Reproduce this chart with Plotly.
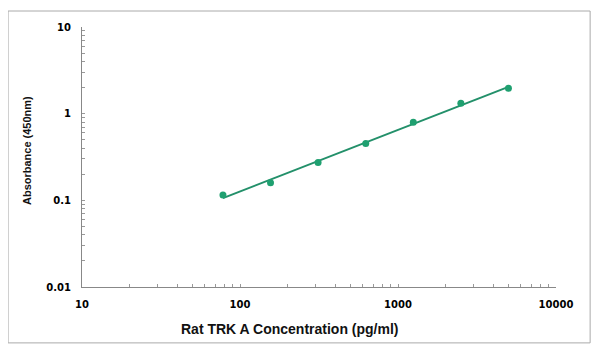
import numpy as np
import plotly.graph_objects as go

# Data
concentration = [78, 156, 312, 625, 1250, 2500, 5000]
absorbance = [0.115, 0.160, 0.274, 0.454, 0.794, 1.315, 1.97]

x_ticks = [10, 100, 1000, 10000]
x_tick_labels = ["10", "100", "1000", "10000"]
y_ticks = [0.01, 0.1, 1, 10]
y_tick_labels = ["0.01", "0.1", "1", "10"]

x_title = "Rat TRK A Concentration (pg/ml)"
y_title = "Absorbance (450nm)"

# log-log linear fit (trend line)
lx = np.log10(concentration)
ly = np.log10(absorbance)
slope, intercept = np.polyfit(lx, ly, 1)
fit_x = [concentration[0], concentration[-1]]
fit_y = [10 ** (intercept + slope * np.log10(v)) for v in fit_x]


def log_ticks(decades, labels):
    vals, texts = [], []
    for i, d in enumerate(decades):
        vals.append(d)
        texts.append(labels[i])
        if i < len(decades) - 1:
            for k in range(2, 10):
                vals.append(d * k)
                texts.append("")
    return vals, texts


xv, xt = log_ticks(x_ticks, x_tick_labels)
yv, yt = log_ticks(y_ticks, y_tick_labels)

line_green = "#23906a"
marker_green = "#1fa070"

fig = go.Figure()
fig.add_trace(go.Scatter(x=fit_x, y=fit_y, mode="lines",
                         line=dict(color=line_green, width=2), showlegend=False))
fig.add_trace(go.Scatter(x=concentration, y=absorbance, mode="markers",
                         marker=dict(color=marker_green, size=7), showlegend=False))

sans = "Liberation Sans, Arial, sans-serif"
tickfont = dict(size=10, family="DejaVu Sans, sans-serif", weight="bold", color="black")

axis_common = dict(type="log", ticks="inside", ticklen=3, tickcolor="#999", tickwidth=1,
                   showline=True, linecolor="#888", linewidth=1, showgrid=False,
                   zeroline=False, tickfont=tickfont, automargin=False,
                   ticklabelstandoff=8)

fig.update_layout(
    width=600, height=355,
    margin=dict(l=74, r=52, t=19, b=76),
    paper_bgcolor="white", plot_bgcolor="white",
    font=dict(family=sans, color="black"),
    xaxis=dict(range=[1, 4], tickvals=xv, ticktext=xt, **axis_common),
    yaxis=dict(range=[-2, 1], tickvals=yv, ticktext=yt, **axis_common),
    annotations=[
        dict(text="<b>" + x_title + "</b>", xref="paper", yref="paper",
             x=0.439, y=-0.1615, xanchor="center", yanchor="middle",
             showarrow=False, font=dict(size=14, family=sans, color="#111")),
        dict(text="<b>" + y_title + "</b>", xref="paper", yref="paper",
             x=-0.116, y=0.523, xanchor="center", yanchor="middle", textangle=-90,
             showarrow=False, font=dict(size=11, family=sans, color="#111")),
    ],
    shapes=[dict(type="rect", xref="paper", yref="paper",
                 x0=-0.156, x1=1.072, y0=-0.215, y1=1.0615,
                 line=dict(color="#aaa", width=1))],
)

fig.write_html("out.html")
